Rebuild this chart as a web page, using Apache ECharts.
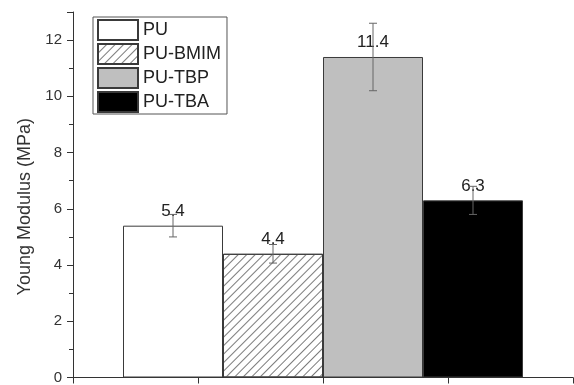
<!DOCTYPE html>
<html>
<head>
<meta charset="utf-8">
<script src="https://cdn.jsdelivr.net/npm/echarts@6/dist/echarts.min.js"></script>
<style>html,body{margin:0;padding:0;background:#fff;}#c{width:574px;height:385px;}</style>
</head>
<body>
<div id="c"></div>
<script>
const seriesNames = ['PU', 'PU-BMIM', 'PU-TBP', 'PU-TBA'];
const values = [5.4, 4.4, 11.4, 6.3];
const errors = [0.4, 0.33, 1.2, 0.5];
const yTicks = [0, 2, 4, 6, 8, 10, 12];

const chart = echarts.init(document.getElementById('c'));
const FONT = '"Liberation Sans", Arial, sans-serif';
const BAR_W = 100;
const fills = ['#ffffff', '#ffffff', '#bfbfbf', '#000000'];

const barSeries = seriesNames.map((name, i) => ({
  name: name,
  type: 'bar',
  xAxisIndex: 0,
  barWidth: BAR_W,
  barGap: '0%',
  data: [values[i]],
  itemStyle: Object.assign({
    color: fills[i],
    borderColor: '#3a3a3a',
    borderWidth: 1
  }, i === 1 ? {
    decal: {
      symbol: 'rect',
      symbolSize: 1,
      dashArrayX: [1, 0],
      dashArrayY: [1, 5],
      rotation: -Math.PI / 4,
      color: '#7a7a7a'
    }
  } : {}),
  label: {
    show: true,
    position: 'top',
    distance: 6,
    fontFamily: FONT,
    fontSize: 17,
    color: '#222',
    formatter: (p) => p.value.toFixed(1)
  }
}));

const errSeries = {
  type: 'custom',
  xAxisIndex: 0,
  z: 10,
  data: values.map((v, i) => [0, v, errors[i], i]),
  encode: { x: 0, y: 1 },
  renderItem: function (params, api) {
    const idx = api.value(3);
    const v = api.value(1), e = api.value(2);
    const off = (idx - (seriesNames.length - 1) / 2) * BAR_W;
    const top = api.coord([0, v + e]);
    const bot = api.coord([0, v - e]);
    const x = top[0] + off;
    const cap = 4;
    const style = { stroke: '#666', lineWidth: 1 };
    return {
      type: 'group',
      children: [
        { type: 'line', shape: { x1: x, y1: top[1], x2: x, y2: bot[1] }, style: style },
        { type: 'line', shape: { x1: x - cap, y1: top[1], x2: x + cap, y2: top[1] }, style: style },
        { type: 'line', shape: { x1: x - cap, y1: bot[1], x2: x + cap, y2: bot[1] }, style: style }
      ]
    };
  }
};

chart.setOption({
  animation: false,
  backgroundColor: '#fff',
  textStyle: { fontFamily: FONT },
  grid: { left: 73, right: 1, top: 12, bottom: 6, containLabel: false },
  legend: {
    orient: 'vertical',
    left: 93,
    top: 17,
    icon: 'rect',
    itemWidth: 40,
    itemHeight: 20,
    itemGap: 2,
    padding: [2, 6, 1, 4],
    borderColor: '#555',
    borderWidth: 1,
    textStyle: { fontFamily: FONT, fontSize: 18, lineHeight: 20, color: '#222' },
    data: seriesNames
  },
  xAxis: [
    {
      type: 'category',
      data: [''],
      position: 'bottom',
      axisLine: { show: false },
      axisTick: { show: false },
      axisLabel: { show: false }
    },
    {
      type: 'value',
      position: 'bottom',
      min: 0,
      max: 4,
      interval: 1,
      axisLine: { show: true, lineStyle: { color: '#333', width: 1 } },
      axisTick: { show: true, inside: false, length: 6, lineStyle: { color: '#333' } },
      axisLabel: { show: false },
      splitLine: { show: false }
    }
  ],
  yAxis: {
    type: 'value',
    min: yTicks[0],
    max: 13,
    interval: yTicks[1] - yTicks[0],
    name: 'Young Modulus (MPa)',
    nameLocation: 'middle',
    nameGap: 38,
    nameTextStyle: { fontFamily: FONT, fontSize: 18, color: '#333', padding: [0, 24, 0, 0] },
    axisLine: { show: true, lineStyle: { color: '#333', width: 1 } },
    axisTick: { show: true, inside: false, length: 6, lineStyle: { color: '#333' } },
    minorTick: { show: true, splitNumber: 2, length: 4, lineStyle: { color: '#333' } },
    axisLabel: { fontFamily: FONT, fontSize: 15, color: '#333', margin: 11, showMaxLabel: false },
    splitLine: { show: false }
  },
  series: barSeries.concat([errSeries])
});
</script>
</body>
</html>
